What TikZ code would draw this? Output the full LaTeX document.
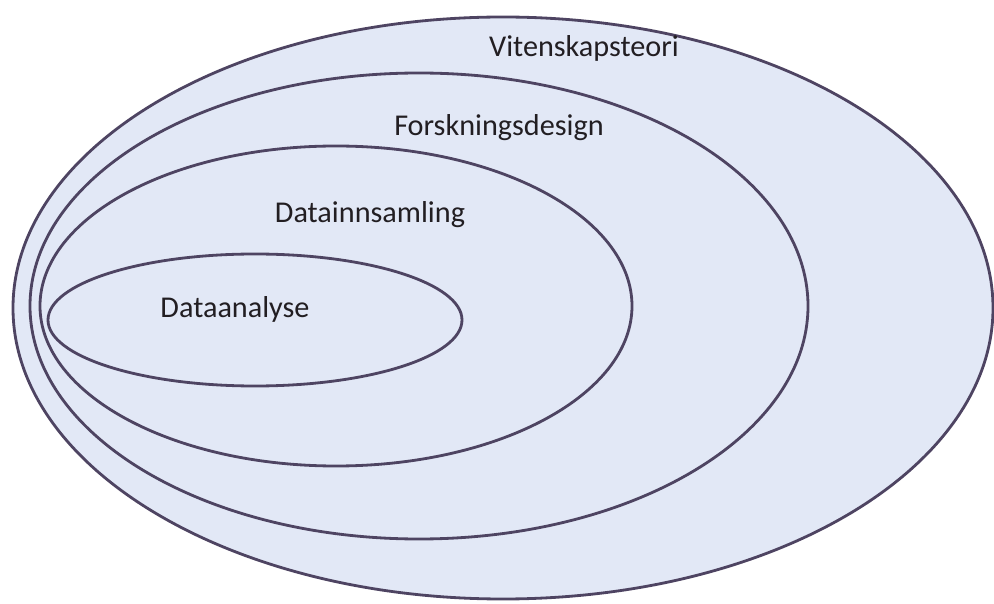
\documentclass[tikz,border=0pt]{standalone}
\usepackage{fontspec}
\setmainfont{Carlito}
\usepackage{xcolor}
\usetikzlibrary{positioning}

\definecolor{ringline}{RGB}{78,68,98}
\definecolor{ringfill}{RGB}{226,232,246}
\definecolor{labeltext}{RGB}{34,30,34}

\begin{document}
\begin{tikzpicture}[
    x=0.02cm, y=-0.02cm,
    ring/.style={draw=ringline, fill=ringfill, line width=1.6pt},
    lbl/.style={text=labeltext, inner sep=0pt, font=\fontsize{17.2}{20}\selectfont}
]
    \useasboundingbox (0,0) rectangle (994,604);

    % nested ellipses, outermost first
    \draw [ring] (503,308) ellipse (490 and 291);
    \draw [ring] (419,306) ellipse (389 and 233);
    \draw [ring] (336,306) ellipse (296 and 160);
    \draw [ring] (255,320) ellipse (207 and 66);

    \node [lbl] (vit) at (584,48) {Vitenskapsteori};
    \node [lbl] (fors) at (499,128) {Forskningsdesign};
    \node [lbl] (innsam) at (370,215) {Datainnsamling};
    \node [lbl] (analyse) at (235,309) {Dataanalyse};
\end{tikzpicture}
\end{document}
